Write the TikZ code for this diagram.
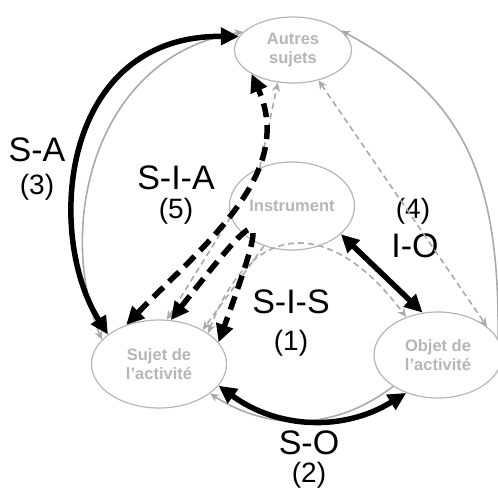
\documentclass[tikz,border=0pt]{standalone}
\usepackage{fontspec}
\setmainfont{Liberation Sans}
\usetikzlibrary{arrows.meta,shapes.geometric}
\definecolor{polegray}{RGB}{182,182,182}
\definecolor{linegray}{RGB}{170,170,170}
\begin{document}
\begin{tikzpicture}[x=1pt, y=-1pt,
    pole/.style={ellipse, draw=polegray, line width=1.2pt, text=polegray, align=center, inner sep=0pt, font=\bfseries\fontsize{16.5}{19}\selectfont},
    lab/.style={inner sep=0pt, font=\fontsize{34}{34}\selectfont},
    num/.style={inner sep=0pt, font=\fontsize{28}{28}\selectfont},
    thinarr/.style={draw=linegray, line width=1.6pt, >={Stealth[length=9pt,width=8pt]}, ->},
    thindash/.style={thinarr, dash pattern=on 6pt off 4pt},
    fat/.style={line width=5.5pt, >={Triangle[length=18pt,width=17pt]}, <->},
    fatdash/.style={fat, dash pattern=on 14pt off 8pt}]
    \useasboundingbox (0,0) rectangle (498,491);
    \node[pole, minimum width=117pt, minimum height=66pt] (aut) at (293,50) {Autres\\sujets};
    \node[pole, minimum width=125pt, minimum height=88pt] (ins) at (292,206) {Instrument};
    \node[pole, minimum width=135pt, minimum height=88pt] (suj) at (159,364) {Sujet de\\l'activité};
    \node[pole, minimum width=128pt, minimum height=86pt] (obj) at (438,355) {Objet de\\l'activité};
    \node[lab] (sa) at (37,150) {S-A};
    \node[num] (n3) at (37,187) {(3)};
    \node[lab] (sia) at (176,178) {S-I-A};
    \node[num] (n5) at (176,211) {(5)};
    \node[num] (n4) at (413,211) {(4)};
    \node[lab] (io) at (415,246) {I-O};
    \node[lab] (sis) at (291,302) {S-I-S};
    \node[num] (n1) at (291,343) {(1)};
    \node[lab] (so) at (309,443) {S-O};
    \node[num] (n2) at (309,475) {(2)};
    \draw[thinarr, <->] (suj.157) .. controls (55,225) and (95,55) .. (aut.160);
    \draw[thinarr] (obj.15) .. controls (500,170) and (460,95) .. (aut.22);
    \draw[thinarr, <-] (suj.-30) to[bend right=35] (obj.-145);
    \draw[thindash, <->] (aut.-50) -- (obj.30);
    \draw[thindash] (ins.130) -- (aut.-115);
    \draw[thindash] (ins.190) -- (suj.80);
    \draw[thindash] (ins.-125) -- (suj.38);
    \draw[thindash, <->] (suj.32) .. controls (250,220) and (330,215) .. (obj.130);
    \draw[fat] (suj.150) .. controls (45,235) and (60,35) .. (aut.166);
    \draw[fat] (suj.-20) to[bend right=34] (obj.-130);
    \draw[fat] (ins.-30) -- (obj.110);
    \draw[fatdash] (suj.130) to[out=46, in=-66] (aut.-150);
    \draw[fatdash] (suj.75) .. controls (265,200) and (270,200) .. (suj.20);
\end{tikzpicture}
\end{document}
